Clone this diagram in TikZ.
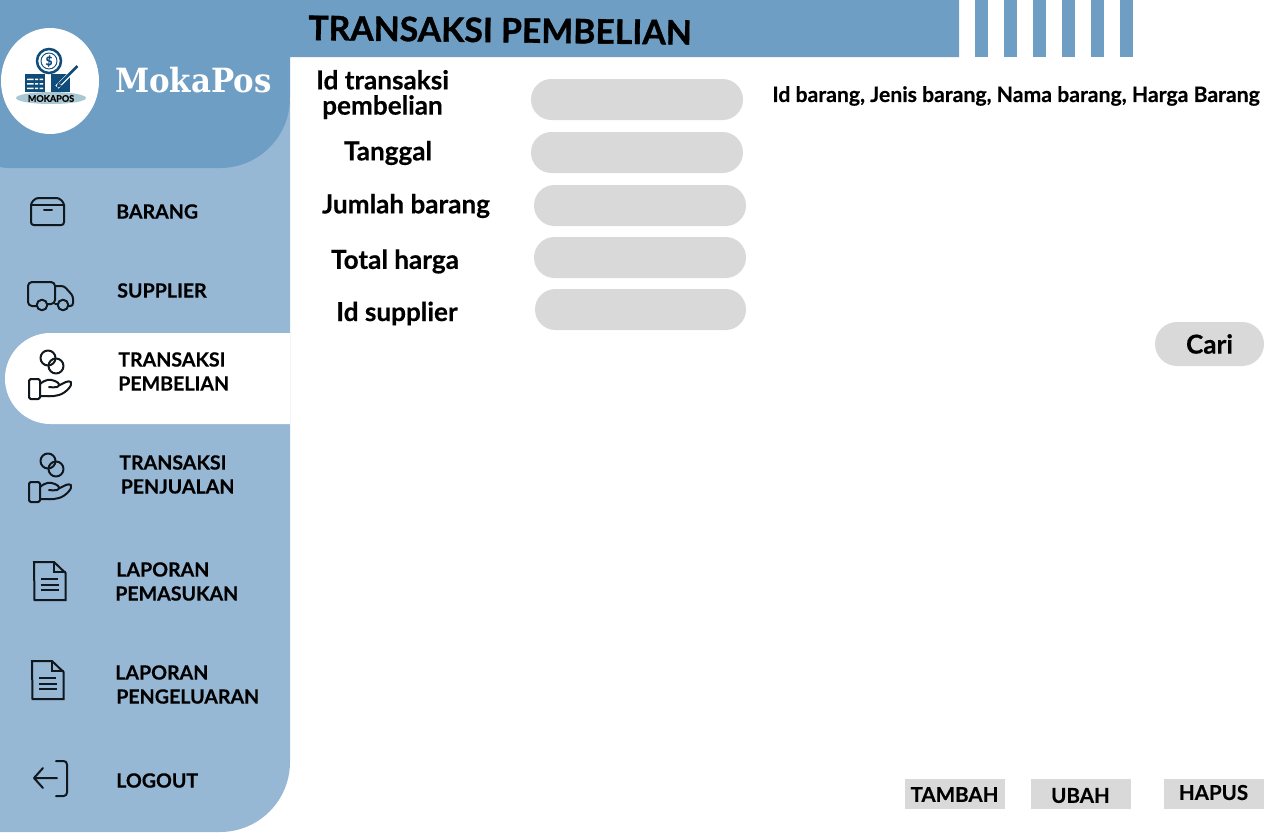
\documentclass[tikz,border=0pt]{standalone}
\usepackage{fontspec}
\setmainfont{Lato}[BoldFeatures={FakeBold=0.35}]
\newfontfamily\heavyfont{Lato}[BoldFeatures={FakeBold=1.1}]
\newfontfamily\serifbrand{DejaVu Serif}
\definecolor{headblue}{HTML}{6F9EC4}
\definecolor{sideblue}{HTML}{97B8D5}
\definecolor{fieldgray}{HTML}{D9D9D9}
\definecolor{logoblue}{HTML}{0F4C7A}
\definecolor{logoteal}{HTML}{A9C8D3}
\definecolor{iconink}{HTML}{10171D}
\tikzset{
  x=0.75pt,y=-0.75pt,
  form/.style={inner sep=0pt,align=center,text=black,font=\bfseries\fontsize{19.6}{18.9}\selectfont},
  menu/.style={inner sep=0pt,align=left,anchor=west,text=black,font=\bfseries\fontsize{14.7}{18}\selectfont},
  btntext/.style={inner sep=0pt,text=black,font=\bfseries\fontsize{15.4}{18}\selectfont},
  ico/.style={draw=iconink,line width=1.5pt,line join=round,line cap=round,fill=none},
  hand/.pic={
    \draw[ico] (48,358) circle[radius=7.5];
    \draw[ico] (56,366) circle[radius=7.5];
    \draw[ico,rounded corners=1.2pt] (29,379) rectangle (40,399);
    \draw[ico] (40,384) .. controls (46,379) and (50,379) .. (55,381) .. controls (60,383) and (60,386) .. (57,387) .. controls (54,388) and (52,387) .. (49,387);
    \draw[ico] (60,385) .. controls (64,383) and (68,380) .. (71,382) .. controls (73,385) and (66,393) .. (59,395) .. controls (52,397) and (46,396) .. (40,396);
  },
  docicon/.pic={
    \draw[ico,line cap=butt,line join=miter] (34,562) -- (54,562) -- (65.5,573) -- (65.5,600) -- (34.5,600) -- cycle;
    \draw[ico,line cap=butt,line join=miter] (54,562) -- (54,572) -- (65.5,572);
    \draw[ico,line cap=butt] (41,579) -- (58,579) (41,584.5) -- (59,584.5) (41,590) -- (59,590);
  }
}
\begin{document}
\begin{tikzpicture}
\useasboundingbox (0,0) rectangle (1280,832);
\fill[white] (0,0) rectangle (1280,832);
% sidebar
\fill[sideblue] (0,100) -- (290,100) -- (290,762) arc[start angle=0,end angle=90,radius=70] -- (0,832) -- cycle;
\fill[headblue] (0,0) -- (959,0) -- (959,57) -- (290,57) -- (290,98) arc[start angle=0,end angle=90,radius=70] -- (6,168) -- (0,167) -- cycle;
\foreach \sx in {975,1004,1033,1062,1091,1120} \fill[headblue] (\sx,0) rectangle (\sx+13,57);
% logo
\fill[white] (50,81) ellipse[x radius=49,y radius=53];
\fill[logoteal] (51,98) ellipse[x radius=35,y radius=6];
\draw[logoblue,line width=1.9pt] (49,61) circle[radius=12];
\draw[logoblue,line width=0.7pt] (49,61) circle[radius=8];
\node[inner sep=0pt,text=logoblue,font=\bfseries\fontsize{9}{9}\selectfont] (dollar) at (49,61) {\$};
\fill[logoblue] (24.5,73.5) rectangle (45,92);
\fill[white] (27,78.5) rectangle (33.5,80) (35,78.5) rectangle (38,80) (39.5,78.5) rectangle (43,80);
\fill[white] (27,83) rectangle (33.5,84.5) (35,83) rectangle (38,84.5) (39.5,83) rectangle (43,84.5);
\fill[white] (27,87.5) rectangle (33.5,89) (35,87.5) rectangle (38,89) (39.5,87.5) rectangle (43,89);
\fill[logoblue] (51,73.5) rectangle (70,92);
\draw[white,line width=3.4pt] (57,87) -- (76,68);
\draw[logoblue,line width=2.1pt] (60,83.5) -- (77.5,66);
\fill[logoblue] (56.5,88) -- (58,82) -- (62,86) -- cycle;
\node[inner sep=0pt,text=black,font=\bfseries\fontsize{6.8}{7}\selectfont] (mokalogo) at (51,98.5) {MOKAPOS};
\node[inner sep=0pt,text=white,anchor=base west,transform shape,xscale=0.925,font=\serifbrand\bfseries\fontsize{25}{25}\selectfont] (brand) at (115,92) {MokaPos};
% title
\node[inner sep=0pt,anchor=base west,rotate=-0.7,text=black,font=\heavyfont\bfseries\fontsize{25.3}{25}\selectfont] (title) at (308,40) {TRANSAKSI PEMBELIAN};
% active pill
\fill[white] (290,333) -- (50.5,333) arc[start angle=-90,end angle=-270,radius=45.5] -- (290,424) -- cycle;
% icons
\draw[ico,rounded corners=2pt] (31,205) -- (31,225) -- (64,225) -- (64,205);
\draw[ico,rounded corners=2pt] (31,205) -- (31,203) -- (36,198) -- (59,198) -- (64,203) -- (64,205);
\draw[ico] (31,205) -- (64,205) (44,210) -- (52,210);
\draw[ico,rounded corners=3pt] (37,306) -- (28,306) -- (28,282) -- (55,282) -- (55,304) -- (47,304);
\draw[ico,rounded corners=2pt] (55,286) -- (64,286) -- (73,296) -- (73,306) -- (68,306);
\draw[ico] (55,304) -- (58,304);
\draw[ico] (42,305) circle[radius=5.3] (63,305) circle[radius=5.3];
\pic {hand};
\pic[yshift=-77.25pt] {hand};
\pic {docicon};
\pic[xshift=-1.5pt,yshift=-74.25pt] {docicon};
\draw[ico] (57,778) -- (34,778) (43,768) -- (34,778) -- (43,788);
\draw[ico,rounded corners=2.5pt] (56,761) -- (67,761) -- (67,796) -- (56,796);
% menu text
\node[menu] (m1) at (116,211.5) {BARANG};
\node[menu] (m2) at (117,290.5) {SUPPLIER};
\node[menu] (m3) at (118,359.5) {TRANSAKSI};
\node[menu] (m3b) at (118,383.5) {PEMBELIAN};
\node[menu] (m4a) at (119,462.5) {TRANSAKSI};
\node[menu] (m4b) at (120.5,486.5) {PENJUALAN};
\node[menu] (m5a) at (116,569.5) {LAPORAN};
\node[menu] (m5b) at (115,593.5) {PEMASUKAN};
\node[menu] (m6a) at (115,672.5) {LAPORAN};
\node[menu] (m6b) at (116,696.5) {PENGELUARAN};
\node[menu] (m7) at (116,780.5) {LOGOUT};
% form fields
\fill[fieldgray,rounded corners=15.3pt] (531,79) rectangle (743,120);
\fill[fieldgray,rounded corners=15.3pt] (531,132) rectangle (743,173);
\fill[fieldgray,rounded corners=15.3pt] (534,185) rectangle (746,226);
\fill[fieldgray,rounded corners=15.3pt] (534,237) rectangle (746,278);
\fill[fieldgray,rounded corners=15.3pt] (535,289) rectangle (746,330);
\fill[fieldgray,rounded corners=16.5pt] (1155,322) rectangle (1264,366);
\node[form] (l1) at (382.5,94.5) {Id transaksi\\pembelian};
\node[form] (l2) at (388,153) {Tanggal};
\node[form] (l3) at (406,206) {Jumlah barang};
\node[form] (l4) at (395,261.5) {Total harga};
\node[form] (l5) at (397,313.5) {Id supplier};
\node[inner sep=0pt,text=black,font=\bfseries\fontsize{15.9}{18}\selectfont] (cols) at (1016,96) {Id barang, Jenis barang, Nama barang, Harga Barang};
\node[form] (cari) at (1209.5,344) {Cari};
% buttons
\fill[fieldgray] (905,779) rectangle (1005,809);
\fill[fieldgray] (1031,779) rectangle (1131,809);
\fill[fieldgray] (1164,779) rectangle (1264,809);
\node[btntext] (b1) at (954.5,794.5) {TAMBAH};
\node[btntext] (b2) at (1080.5,795.5) {UBAH};
\node[btntext] (b3) at (1213.5,792.5) {HAPUS};
\end{tikzpicture}
\end{document}
